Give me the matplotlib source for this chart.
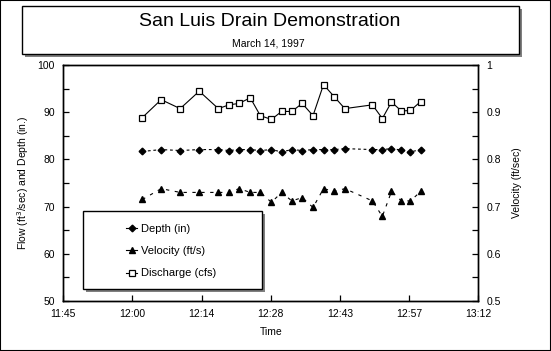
import matplotlib.pyplot as plt
import matplotlib.patches as patches
from matplotlib.lines import Line2D

plt.rcParams['font.family'] = ['Liberation Sans', 'DejaVu Sans']

# sample times
times = ['12:01:34', '12:05:31', '12:09:30', '12:13:30', '12:17:30', '12:19:44',
         '12:21:50', '12:24:12', '12:26:18', '12:28:38', '12:30:46', '12:32:54',
         '12:35:05', '12:37:21', '12:39:33', '12:41:49', '12:44:01', '12:49:48',
         '12:51:53', '12:53:48', '12:55:52', '12:57:47', '12:59:55']
depth = [81.7, 82.1, 81.9, 82.1, 82.1, 81.9, 82.1, 82.1, 81.9, 82.1, 81.6, 82.1,
         81.9, 82.1, 82.1, 82.1, 82.3, 82.1, 82.1, 82.3, 82.0, 81.6, 82.1]
discharge = [88.9, 92.7, 90.8, 94.5, 90.8, 91.6, 91.9, 93.1, 89.3, 88.5, 90.2, 90.2,
             91.9, 89.3, 95.9, 93.3, 90.8, 91.6, 88.7, 92.2, 90.3, 90.4, 92.3]
velocity = [0.715, 0.738, 0.730, 0.730, 0.730, 0.730, 0.738, 0.730, 0.730, 0.709,
            0.730, 0.712, 0.719, 0.698, 0.738, 0.732, 0.738, 0.712, 0.679, 0.732,
            0.712, 0.712, 0.732]
x_tick_labels = ['11:45', '12:00', '12:14', '12:28', '12:43', '12:57', '13:12']


def to_min(t):
    # minutes after 11:45
    h, m, s = [int(v) for v in t.split(':')]
    return h * 60 + m + s / 60.0 - (11 * 60 + 45)


tx = [to_min(t) for t in times]

W, H = 551, 351
fig = plt.figure(figsize=(W / 100, H / 100), dpi=100)


def fx(px):
    return px / W


def fy(py):
    return 1 - py / H


ax = fig.add_axes([fx(63.3), fy(300.7), fx(478.3 - 63.3), (300.7 - 65.3) / H])
ax2 = ax.twinx()

ax.plot(tx, discharge, color='black', lw=0.8, marker='s', ms=4.6,
        mfc='white', mec='black', mew=0.9, zorder=3)
ax.plot(tx, depth, color='black', lw=0.8, ls=(0, (2.5, 2.5)), marker='D',
        ms=3.4, mfc='black', mec='black', zorder=3)
ax2.plot(tx, velocity, color='black', lw=0.8, ls=(0, (3, 5)), marker='^',
         ms=5, mfc='black', mec='black', zorder=3)

ax.set_xlim(0, 87)
ax.set_ylim(50, 100)
ax2.set_ylim(0.5, 1.0)
ax.set_xticks([i * 14.5 for i in range(7)])
ax.set_xticklabels(x_tick_labels)
ax.set_yticks(range(50, 101, 10))
ax.set_yticks(range(55, 100, 10), minor=True)
ax2.set_yticks([0.5, 0.6, 0.7, 0.8, 0.9, 1.0])
ax2.set_yticklabels(['0.5', '0.6', '0.7', '0.8', '0.9', '1'])
ax2.set_yticks([0.55, 0.65, 0.75, 0.85, 0.95], minor=True)

for a in (ax, ax2):
    a.tick_params(which='both', direction='in', length=4, width=0.9,
                  labelsize=7.5, pad=6)
    for sp in a.spines.values():
        sp.set_linewidth(1.0)
ax.tick_params(axis='y', which='both', right=False)
ax2.tick_params(axis='y', which='both', left=False)

ax.set_xlabel('Time', fontsize=7.5, labelpad=6)
ax.set_ylabel('Flow (ft$^3$/sec) and Depth (in.)', fontsize=7.5, labelpad=5)
ax2.set_ylabel('Velocity (ft/sec)', fontsize=7.5, labelpad=8)

# title box with shadow
fig.add_artist(patches.Rectangle((fx(25), fy(57)), fx(497), 48 / H,
                                 facecolor='#808080', edgecolor='none'))
fig.add_artist(patches.Rectangle((fx(22), fy(54)), fx(497), 48 / H,
                                 facecolor='white', edgecolor='black', lw=1))
fig.text(fx(270), fy(22), 'San Luis Drain Demonstration', fontsize=14,
         ha='center', va='center')
fig.text(fx(268), fy(44), 'March 14, 1997', fontsize=7.5,
         ha='center', va='center')

# legend box with shadow (on the twin axes so it covers the data)
ax2.add_patch(patches.Rectangle((fx(86), fy(292)), fx(179), 78.3 / H,
                                transform=fig.transFigure, clip_on=False,
                                facecolor='#808080', edgecolor='none', zorder=4))
ax2.add_patch(patches.Rectangle((fx(83.3), fy(289)), fx(179), 78.3 / H,
                                transform=fig.transFigure, clip_on=False,
                                facecolor='white', edgecolor='black', lw=1, zorder=4))
handles = [
    Line2D([], [], color='black', lw=0.8, marker='D', ms=3.4, mfc='black'),
    Line2D([], [], color='black', lw=0.8, marker='^', ms=5, mfc='black'),
    Line2D([], [], color='black', lw=0.8, marker='s', ms=4.6, mfc='white', mew=0.9),
]
labels = ['Depth (in)', 'Velocity (ft/s)', 'Discharge (cfs)']
leg = ax2.legend(handles, labels, frameon=False, loc='upper left',
                 bbox_to_anchor=(fx(126), fy(224)), bbox_transform=fig.transFigure,
                 borderpad=0, borderaxespad=0, handlelength=1.0,
                 handletextpad=0.35, labelspacing=1.1, fontsize=8)
leg.set_zorder(5)

# outer border
fig.add_artist(patches.Rectangle((0, 0), 1, 1, fill=False, edgecolor='black',
                                 lw=1.5, transform=fig.transFigure))

fig.savefig('out.png', dpi=100)
